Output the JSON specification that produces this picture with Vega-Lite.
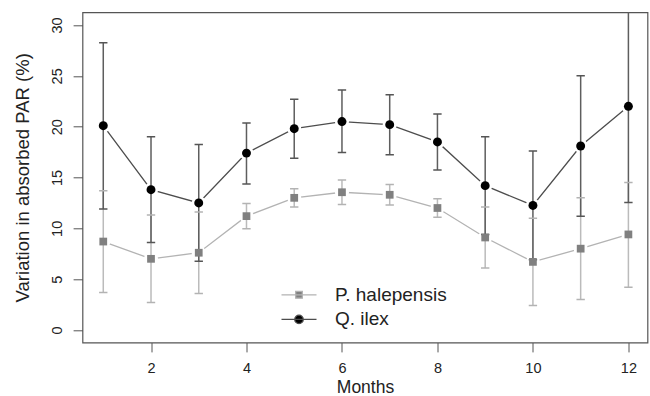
{
  "$schema": "https://vega.github.io/schema/vega-lite/v6.json",
  "autosize": {"type": "none"},
  "padding": {"left": 82.5, "top": 12.3, "right": 2.5, "bottom": 53.5},
  "width": 565,
  "height": 330.2,
  "background": "white",
  "config": {
    "view": {"stroke": "#555555", "strokeWidth": 1.2},
    "font": "Liberation Sans"
  },
  "data": {
    "values": [
      {"month": 1, "series": "P. halepensis", "mean": 8.7, "lo": 3.7, "hi": 13.7},
      {"month": 2, "series": "P. halepensis", "mean": 7.0, "lo": 2.7, "hi": 11.3},
      {"month": 3, "series": "P. halepensis", "mean": 7.6, "lo": 3.6, "hi": 11.6},
      {"month": 4, "series": "P. halepensis", "mean": 11.2, "lo": 9.95, "hi": 12.45},
      {"month": 5, "series": "P. halepensis", "mean": 13.0, "lo": 12.1, "hi": 13.9},
      {"month": 6, "series": "P. halepensis", "mean": 13.55, "lo": 12.35, "hi": 14.75},
      {"month": 7, "series": "P. halepensis", "mean": 13.3, "lo": 12.3, "hi": 14.3},
      {"month": 8, "series": "P. halepensis", "mean": 12.0, "lo": 11.1, "hi": 12.9},
      {"month": 9, "series": "P. halepensis", "mean": 9.1, "lo": 6.1, "hi": 12.1},
      {"month": 10, "series": "P. halepensis", "mean": 6.7, "lo": 2.4, "hi": 11.0},
      {"month": 11, "series": "P. halepensis", "mean": 8.0, "lo": 3.0, "hi": 13.0},
      {"month": 12, "series": "P. halepensis", "mean": 9.4, "lo": 4.2, "hi": 14.5},
      {"month": 1, "series": "Q. ilex", "mean": 20.1, "lo": 11.9, "hi": 28.25},
      {"month": 2, "series": "Q. ilex", "mean": 13.8, "lo": 8.6, "hi": 19.0},
      {"month": 3, "series": "Q. ilex", "mean": 12.5, "lo": 6.75, "hi": 18.25},
      {"month": 4, "series": "Q. ilex", "mean": 17.4, "lo": 14.35, "hi": 20.35},
      {"month": 5, "series": "Q. ilex", "mean": 19.8, "lo": 16.9, "hi": 22.7},
      {"month": 6, "series": "Q. ilex", "mean": 20.5, "lo": 17.45, "hi": 23.6},
      {"month": 7, "series": "Q. ilex", "mean": 20.2, "lo": 17.25, "hi": 23.15},
      {"month": 8, "series": "Q. ilex", "mean": 18.5, "lo": 15.75, "hi": 21.25},
      {"month": 9, "series": "Q. ilex", "mean": 14.2, "lo": 9.4, "hi": 19.0},
      {"month": 10, "series": "Q. ilex", "mean": 12.25, "lo": 6.9, "hi": 17.6},
      {"month": 11, "series": "Q. ilex", "mean": 18.1, "lo": 11.2, "hi": 25.0},
      {"month": 12, "series": "Q. ilex", "mean": 22.0, "lo": 12.55, "hi": 31.45}
    ]
  },
  "encoding": {
    "x": {
      "field": "month", "type": "quantitative",
      "scale": {"domain": [0.565, 12.4], "nice": false, "zero": false},
      "axis": {
        "title": "Months", "values": [2, 4, 6, 8, 10, 12], "grid": false, "domain": false,
        "tickSize": 9.4, "tickColor": "#555555", "tickWidth": 1,
        "labelFont": "Liberation Sans", "labelFontSize": 14.5, "labelColor": "#222222",
        "labelBaseline": "alphabetic", "labelPadding": 21, "labelFlush": false,
        "titleFont": "Liberation Sans", "titleFontSize": 17.5, "titleFontWeight": "normal", "titleColor": "#222222",
        "titleBaseline": "alphabetic", "titleY": 50
      }
    },
    "y": {
      "field": "mean", "type": "quantitative",
      "scale": {"domain": [-1.23, 31.25], "nice": false, "zero": false},
      "axis": {
        "title": "Variation in absorbed PAR (%)", "values": [0, 5, 10, 15, 20, 25, 30], "grid": false, "domain": false,
        "tickSize": 9.4, "tickColor": "#555555", "tickWidth": 1,
        "labelFont": "Liberation Sans", "labelFontSize": 14.5, "labelColor": "#222222",
        "labelAngle": 270, "labelAlign": "center", "labelBaseline": "alphabetic", "labelPadding": 12, "labelFlush": false,
        "titleFont": "Liberation Sans", "titleFontSize": 18.5, "titleFontWeight": "normal", "titleColor": "#222222",
        "titleAngle": 270, "titleAlign": "center", "titleBaseline": "alphabetic", "titleX": -54.5, "titleY": 165
      }
    }
  },
  "layer": [
    {
      "mark": {"type": "line", "strokeWidth": 1.3},
      "encoding": {
        "detail": {"field": "series", "type": "nominal"},
        "stroke": {"condition": {"test": "datum.series == 'Q. ilex'", "value": "#4d4d4d"}, "value": "#b3b3b3"}
      }
    },
    {
      "mark": {"type": "point", "shape": "circle", "filled": true, "fill": "white", "opacity": 1, "size": 200, "strokeWidth": 0}
    },
    {
      "mark": {"type": "rule", "strokeWidth": 1.5, "clip": true},
      "encoding": {
        "y": {"field": "lo", "type": "quantitative"},
        "y2": {"field": "hi"},
        "stroke": {"condition": {"test": "datum.series == 'Q. ilex'", "value": "#5e5e5e"}, "value": "#bbbbbb"}
      }
    },
    {
      "mark": {"type": "point", "shape": "M-1,0L1,0", "filled": false, "size": 70, "strokeWidth": 1.5, "opacity": 1, "clip": true},
      "encoding": {
        "y": {"field": "lo", "type": "quantitative"},
        "stroke": {"condition": {"test": "datum.series == 'Q. ilex'", "value": "#555555"}, "value": "#b3b3b3"}
      }
    },
    {
      "mark": {"type": "point", "shape": "M-1,0L1,0", "filled": false, "size": 70, "strokeWidth": 1.5, "opacity": 1, "clip": true},
      "encoding": {
        "y": {"field": "hi", "type": "quantitative"},
        "stroke": {"condition": {"test": "datum.series == 'Q. ilex'", "value": "#555555"}, "value": "#b3b3b3"}
      }
    },
    {
      "transform": [{"filter": "datum.series == 'P. halepensis'"}],
      "mark": {"type": "point", "shape": "square", "filled": true, "fill": "#808080", "opacity": 1, "size": 60, "strokeWidth": 0}
    },
    {
      "transform": [{"filter": "datum.series == 'Q. ilex'"}],
      "mark": {"type": "point", "shape": "circle", "filled": true, "fill": "#000000", "opacity": 1, "size": 80, "strokeWidth": 0}
    },
    {
      "mark": {"type": "point", "filled": true, "opacity": 0, "size": 100},
      "encoding": {
        "color": {
          "field": "series", "type": "nominal",
          "scale": {"domain": ["P. halepensis", "Q. ilex"], "range": ["#808080", "#000000"]},
          "legend": {
            "title": null, "orient": "none", "legendX": 207, "legendY": 273,
            "padding": 0, "symbolSize": 100, "symbolOpacity": 1, "symbolStrokeWidth": 1.3,
            "labelFont": "Liberation Sans", "labelFontSize": 19, "labelColor": "#222222",
            "labelOffset": 26.5, "rowPadding": 4.6,
            "encode": {
              "symbols": {
                "update": {
                  "stroke": {"signal": "datum.value == 'Q. ilex' ? '#4d4d4d' : '#b3b3b3'"},
                  "strokeWidth": {"value": 1.3}
                }
              }
            }
          }
        },
        "shape": {
          "field": "series", "type": "nominal",
          "scale": {"domain": ["P. halepensis", "Q. ilex"], "range": ["M-3.5,0H3.5M-0.67,-0.67H0.67V0.67H-0.67Z", "M-3.5,0H3.5M-0.85,0A0.85,0.85,0,1,0,0.85,0A0.85,0.85,0,1,0,-0.85,0Z"]}
        }
      }
    }
  ]
}
